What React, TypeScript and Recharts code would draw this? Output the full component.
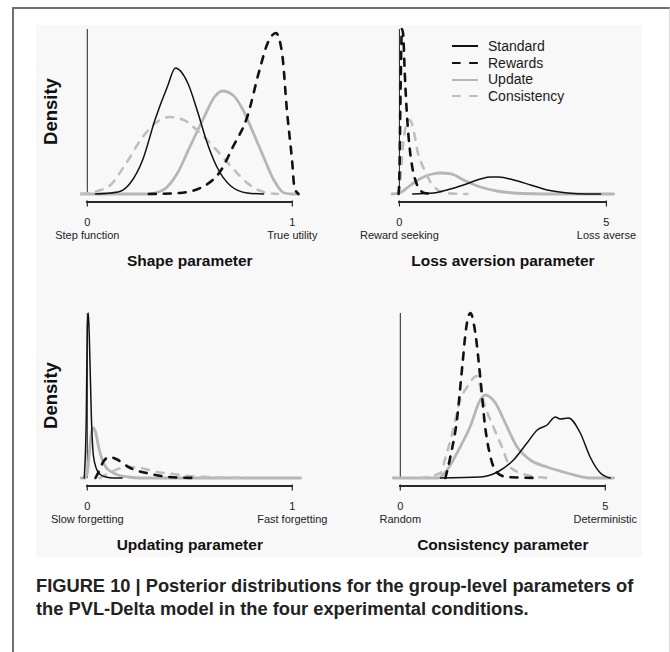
import React from 'react'
import { LineChart, Line, XAxis, YAxis, ReferenceLine, Legend } from 'recharts'

const FONT = '"Liberation Sans", Arial, Helvetica, sans-serif'

type Pt = [number, number]

// condition names, legend order
const SERIES = ['Standard', 'Rewards', 'Update', 'Consistency']
// gray curves go under the black ones
const DRAW_ORDER = ['Update', 'Consistency', 'Standard', 'Rewards']

// Shape parameter (x in 0..1, density)
const shapeStandard: Pt[] = [[0.04, 0], [0.15, 0.1], [0.21, 0.55], [0.27, 1.7], [0.33, 3.7], [0.39, 5.35], [0.43, 6.3], [0.49, 5.55], [0.54, 4.05], [0.58, 2.7], [0.63, 1.4], [0.7, 0.4], [0.78, 0.05], [0.86, 0]]
const shapeRewards: Pt[] = [[0.3, 0], [0.45, 0.05], [0.57, 0.4], [0.65, 1.15], [0.71, 2.35], [0.78, 3.85], [0.84, 6.2], [0.88, 7.55], [0.92, 8.05], [0.95, 7.05], [0.975, 4.05], [1.0, 1.55], [1.01, 0.35], [1.03, 0]]
const shapeUpdate: Pt[] = [[-0.03, 0], [0.29, 0], [0.37, 0.2], [0.44, 1.05], [0.5, 2.35], [0.57, 3.85], [0.62, 4.85], [0.66, 5.15], [0.71, 4.95], [0.76, 4.2], [0.81, 3.05], [0.86, 1.85], [0.91, 0.7], [0.96, 0.05], [1.0, 0], [1.03, 0]]
const shapeConsistency: Pt[] = [[-0.03, 0], [0.1, 0.35], [0.19, 1.55], [0.27, 2.85], [0.34, 3.6], [0.4, 3.85], [0.47, 3.7], [0.55, 3.05], [0.63, 2.2], [0.7, 1.4], [0.78, 0.55], [0.86, 0.1], [0.93, 0]]

// Loss aversion parameter (x in 0..5)
const lossStandard: Pt[] = [[0.32, 0], [0.83, 0.04], [1.15, 0.16], [1.55, 0.36], [1.96, 0.6], [2.2, 0.68], [2.4, 0.68], [2.76, 0.56], [3.17, 0.36], [3.57, 0.16], [4.06, 0.04], [4.5, 0], [4.86, 0]]
const lossRewards: Pt[] = [[-0.02, 0], [0, 0.8], [0.03, 4.4], [0.06, 6.6], [0.09, 6.4], [0.13, 4.8], [0.19, 2.96], [0.25, 1.8], [0.31, 1.08], [0.4, 0.48], [0.5, 0.16], [0.6, 0.04], [0.87, 0]]
const lossUpdate: Pt[] = [[-0.18, 0], [0, 0.04], [0.15, 0.2], [0.34, 0.44], [0.58, 0.68], [0.8, 0.8], [1.0, 0.84], [1.25, 0.8], [1.55, 0.56], [1.96, 0.28], [2.35, 0.12], [2.76, 0.04], [3.2, 0.01], [3.8, 0], [5.17, 0]]
const lossConsistency: Pt[] = [[-0.03, 0], [0, 0.2], [0.03, 0.68], [0.07, 1.64], [0.12, 2.4], [0.18, 2.84], [0.25, 2.96], [0.32, 2.72], [0.38, 2.24], [0.43, 1.76], [0.52, 1.28], [0.63, 0.88], [0.75, 0.48], [0.9, 0.2], [1.1, 0.04], [1.64, 0]]

// Updating parameter (x in 0..1)
const updStandard: Pt[] = [[-0.015, 0], [-0.005, 15], [0, 37.5], [0.005, 41.25], [0.01, 35], [0.02, 15], [0.03, 5.5], [0.045, 2.25], [0.06, 1], [0.09, 0.25], [0.13, 0], [0.17, 0]]
const updRewards: Pt[] = [[0.04, 0], [0.06, 2], [0.08, 4.25], [0.11, 5.25], [0.14, 4.75], [0.21, 2.5], [0.31, 1], [0.4, 0.25], [0.53, 0]]
const updUpdate: Pt[] = [[-0.03, 0], [-0.01, 0], [0, 1.25], [0.01, 6.25], [0.02, 11.25], [0.03, 12.5], [0.04, 11.5], [0.055, 7.75], [0.07, 5], [0.09, 2.75], [0.12, 1.5], [0.15, 0.75], [0.2, 0.25], [0.26, 0], [1.04, 0]]
const updConsistency: Pt[] = [[0.06, 0], [0.1, 1], [0.15, 2.25], [0.2, 2.75], [0.26, 2.5], [0.34, 1.5], [0.42, 1], [0.49, 0.5], [0.6, 0.25], [0.78, 0]]

// Consistency parameter (x in 0..5)
const conStandard: Pt[] = [[0.98, 0], [1.95, 0.01], [2.37, 0.06], [2.76, 0.18], [3.09, 0.35], [3.34, 0.48], [3.58, 0.53], [3.78, 0.61], [3.9, 0.59], [4.1, 0.6], [4.39, 0.45], [4.63, 0.21], [4.88, 0.05], [5.12, 0]]
const conRewards: Pt[] = [[1.1, 0], [1.22, 0.21], [1.39, 0.61], [1.51, 1.11], [1.61, 1.51], [1.71, 1.65], [1.83, 1.45], [1.95, 1.01], [2.07, 0.51], [2.2, 0.21], [2.37, 0.05], [2.6, 0.01], [3.34, 0]]
const conUpdate: Pt[] = [[-0.17, 0], [0.93, 0], [1.14, 0.08], [1.46, 0.31], [1.7, 0.51], [1.95, 0.78], [2.07, 0.83], [2.32, 0.75], [2.56, 0.55], [2.85, 0.31], [3.17, 0.18], [3.58, 0.11], [4.07, 0.05], [4.63, 0], [5.2, 0]]
const conConsistency: Pt[] = [[0.49, 0], [0.98, 0.05], [1.1, 0.2], [1.27, 0.45], [1.46, 0.78], [1.63, 0.91], [1.87, 1.02], [2.02, 0.78], [2.27, 0.51], [2.48, 0.31], [2.68, 0.11], [2.93, 0.05], [3.2, 0.02], [3.58, 0]]

const STYLE: Record<string, { stroke: string; width: number; dash?: string }> = {
  Standard: { stroke: '#111', width: 1.5 },
  Rewards: { stroke: '#111', width: 2.6, dash: '7 8' },
  Update: { stroke: '#b6b6b6', width: 2.8 },
  Consistency: { stroke: '#bebebe', width: 2.6, dash: '7 8' },
}

interface PanelDef {
  title: string
  ends: [string, string]
  ticks: number[]
  domain: [number, number]
  yTop: number
  x0: number // page x of value 0
  unit: number // px per unit
  top: number // page y of plot top
  density: boolean
  legend: boolean
  curves: Record<string, Pt[]>
}

const PANELS: PanelDef[] = [
  {
    title: 'Shape parameter', ends: ['Step function', 'True utility'], ticks: [0, 1],
    domain: [-0.06, 1.06], yTop: 8.25, x0: 87, unit: 205, top: 29, density: true, legend: false,
    curves: { Standard: shapeStandard, Rewards: shapeRewards, Update: shapeUpdate, Consistency: shapeConsistency },
  },
  {
    title: 'Loss aversion parameter', ends: ['Reward seeking', 'Loss averse'], ticks: [0, 5],
    domain: [-0.3, 5.3], yTop: 6.6, x0: 399, unit: 41.4, top: 29, density: false, legend: true,
    curves: { Standard: lossStandard, Rewards: lossRewards, Update: lossUpdate, Consistency: lossConsistency },
  },
  {
    title: 'Updating parameter', ends: ['Slow forgetting', 'Fast forgetting'], ticks: [0, 1],
    domain: [-0.06, 1.06], yTop: 41.25, x0: 87, unit: 205, top: 313, density: true, legend: false,
    curves: { Standard: updStandard, Rewards: updRewards, Update: updUpdate, Consistency: updConsistency },
  },
  {
    title: 'Consistency parameter', ends: ['Random', 'Deterministic'], ticks: [0, 5],
    domain: [-0.3, 5.3], yTop: 1.65, x0: 400, unit: 41, top: 313, density: false, legend: false,
    curves: { Standard: conStandard, Rewards: conRewards, Update: conUpdate, Consistency: conConsistency },
  },
]

const PLOT_H = 165 // baseline to top of the y axis line
const BELOW = 14 // room under the baseline for the R-style bracket axis
const AX_W = 40
const M_LEFT = 8
const M_TOP = 10
const X_AX_H = 72

const LegendBox = ({ payload }: { payload?: { value: string }[] }) => {
  const names = SERIES.filter((s) => (payload ?? []).some((p) => p.value === s))
  return (
    <div style={{ fontFamily: FONT, fontSize: 14, color: '#1a1a1a', lineHeight: '16.7px' }}>
      {names.map((name) => {
        const st = STYLE[name]
        return (
          <div key={name} style={{ display: 'flex', alignItems: 'center', height: 16.7, whiteSpace: 'nowrap' }}>
            <svg width={26} height={10} style={{ display: 'block' }}>
              <line x1={0} x2={26} y1={5} y2={5} stroke={st.stroke} strokeWidth={2} strokeDasharray={st.dash ? '8.6 8.6' : undefined} />
            </svg>
            <span style={{ marginLeft: 10 }}>{name}</span>
          </div>
        )
      })}
    </div>
  )
}

function Panel({ def }: { def: PanelDef }) {
  const plotLeft = def.x0 + def.domain[0] * def.unit
  const plotW = (def.domain[1] - def.domain[0]) * def.unit
  const left = plotLeft - AX_W - M_LEFT
  const top = def.top - M_TOP
  const width = M_LEFT + AX_W + plotW + 40
  const height = M_TOP + PLOT_H + BELOW + X_AX_H
  const perPx = def.yTop / PLOT_H
  const yMin = -BELOW * perPx
  const densityX = 56.5 - left
  const axisSpan = (def.ticks[1] - def.ticks[0]) * def.unit

  // R-style axis: ticks pointing down from the bar, two-line labels
  const renderTick = (p: any) => {
    const x = Number(p.x)
    const y = Number(p.y)
    const v = Number(p.payload.value)
    const end = v === def.ticks[0] ? def.ends[0] : def.ends[1]
    return (
      <g>
        <rect x={x - 0.6} y={y - 7.5} width={1.2} height={6} fill="#2a2a2a" />
        <text x={x} y={y + 18} textAnchor="middle" fontSize={11} fill="#222" fontFamily={FONT}>{v}</text>
        <text x={x} y={y + 31} textAnchor="middle" fontSize={11} fill="#222" fontFamily={FONT}>{end}</text>
      </g>
    )
  }

  return (
    <>
      <div style={{ position: 'absolute', left, top }}>
        <LineChart width={width} height={height} margin={{ top: M_TOP, right: 40, bottom: 0, left: M_LEFT }}>
          <XAxis
            dataKey="x"
            type="number"
            domain={def.domain}
            ticks={def.ticks}
            interval={0}
            axisLine={false}
            tickLine={false}
            tickSize={0}
            tickMargin={0}
            height={X_AX_H}
            tick={renderTick}
            label={{
              content: (lp: any) => {
                const vb = lp.viewBox
                return (
                  <text x={vb.x + vb.width / 2} y={vb.y + 58} textAnchor="middle" fontSize={15.5} fontWeight="bold" fill="#111" fontFamily={FONT}>
                    {def.title}
                  </text>
                )
              },
            }}
          />
          <YAxis
            type="number"
            domain={[yMin, def.yTop]}
            width={AX_W}
            tick={false}
            axisLine={false}
            tickLine={false}
            label={
              def.density
                ? {
                    content: (lp: any) => {
                      const vb = lp.viewBox
                      const cy = vb.y + (vb.height - BELOW) / 2
                      return (
                        <text transform={`translate(${densityX},${cy}) rotate(-90)`} textAnchor="middle" fontSize={18.5} fontWeight="bold" fill="#111" fontFamily={FONT}>
                          Density
                        </text>
                      )
                    },
                  }
                : undefined
            }
          />
          <ReferenceLine segment={[{ x: 0, y: 0 }, { x: 0, y: def.yTop }]} stroke="#222" strokeWidth={1} />
          {DRAW_ORDER.map((name) => {
            const st = STYLE[name]
            return (
              <Line
                key={name}
                name={name}
                data={def.curves[name].map(([x, y]) => ({ x, y }))}
                dataKey="y"
                type="monotone"
                dot={false}
                activeDot={false}
                stroke={st.stroke}
                strokeWidth={st.width}
                strokeDasharray={st.dash}
                strokeLinecap="round"
                isAnimationActive={false}
              />
            )
          })}
          {def.legend && (
            <Legend
              layout="vertical"
              align="center"
              verticalAlign="middle"
              wrapperStyle={{ left: 452 - left, top: 38 - top, width: 150 }}
              content={<LegendBox />}
            />
          )}
        </LineChart>
      </div>
      {/* axis bar from first to last tick */}
      <div
        style={{
          position: 'absolute', left: def.x0 - 0.6, top: def.top + PLOT_H + 7,
          width: axisSpan + 1.2, height: 1.6, background: '#2a2a2a',
        }}
      />
    </>
  )
}

export default function App() {
  return (
    <div style={{ position: 'absolute', left: 0, top: 0, width: 670, height: 652, background: '#fff', overflow: 'hidden', fontFamily: FONT }}>
      <div
        style={{
          position: 'absolute', left: 12, top: 7, width: 655, height: 700,
          borderTop: '2px solid #707070', borderLeft: '2px solid #707070', borderRight: '1px solid #d8d8d8',
        }}
      />
      <div style={{ position: 'absolute', left: 36, top: 25, width: 606, height: 532, background: '#f8f8f8' }} />
      {PANELS.map((p) => (
        <Panel key={p.title} def={p} />
      ))}
      <div
        style={{
          position: 'absolute', left: 36, top: 574, whiteSpace: 'nowrap',
          fontFamily: FONT, fontWeight: 'bold', fontSize: 18.3, lineHeight: '23px', color: '#222',
        }}
      >
        FIGURE 10 | Posterior distributions for the group-level parameters of
        <br />
        the PVL-Delta model in the four experimental conditions.
      </div>
    </div>
  )
}
